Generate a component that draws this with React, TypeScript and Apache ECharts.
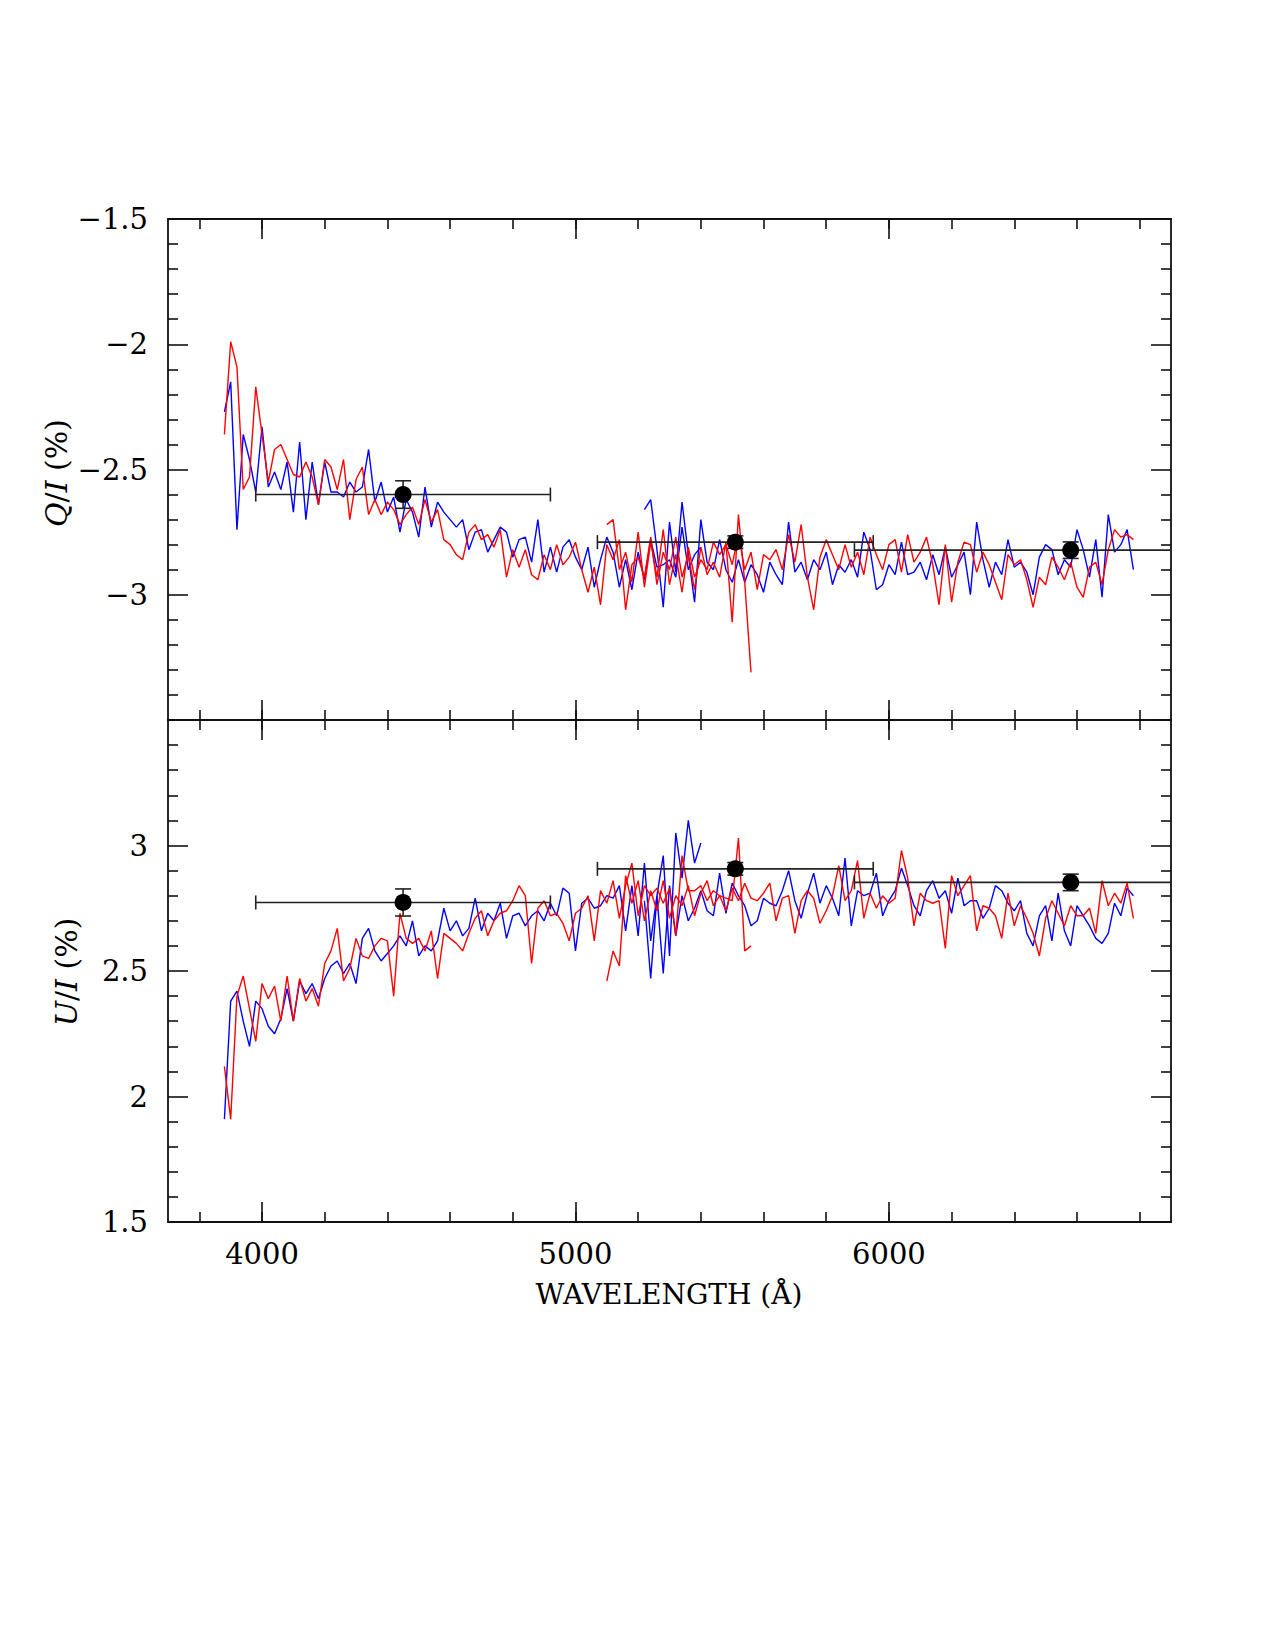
import { useEffect, useRef } from "react";
import * as echarts from "echarts";

// Wavelength grid of the spectra (Å)
const WL_STEP = 20;
const X_MIN = 3700;
const X_MAX = 6900;

const xMajorTicks = [4000, 5000, 6000];
const xMinorTicks = [3800, 4000, 4200, 4400, 4600, 4800, 5000, 5200, 5400, 5600, 5800, 6000, 6200, 6400, 6600, 6800];

// ---- Q/I (%) spectra: each arm comes in two overlapping pieces ----
const qBlueAStart = 3880;
const qBlueA = [
  -2.27, -2.15, -2.74, -2.36, -2.46, -2.59, -2.33, -2.57, -2.51, -2.58,
  -2.47, -2.67, -2.39, -2.70, -2.47, -2.64, -2.47, -2.59, -2.59, -2.61,
  -2.55, -2.59, -2.57, -2.42, -2.63, -2.55, -2.67, -2.61, -2.75, -2.62,
  -2.67, -2.77, -2.57, -2.73, -2.63, -2.67, -2.70, -2.73, -2.70, -2.82,
  -2.75, -2.74, -2.83, -2.78, -2.73, -2.75, -2.85, -2.78, -2.77, -2.87,
  -2.70, -2.91, -2.81, -2.91, -2.81, -2.78, -2.85, -2.90, -2.81, -2.97,
  -2.86, -2.77, -2.83, -2.97, -2.86, -2.98, -2.83, -2.94, -2.78, -2.89,
  -2.88, -2.86, -2.93, -2.73, -2.90, -2.84, -2.81,
];

const qRedAStart = 3880;
const qRedA = [
  -2.36, -1.99, -2.09, -2.58, -2.53, -2.17, -2.36, -2.55, -2.42, -2.40,
  -2.46, -2.52, -2.53, -2.47, -2.53, -2.64, -2.46, -2.49, -2.58, -2.46,
  -2.70, -2.54, -2.49, -2.68, -2.62, -2.68, -2.63, -2.66, -2.72, -2.68,
  -2.65, -2.72, -2.62, -2.71, -2.66, -2.78, -2.80, -2.84, -2.86, -2.75,
  -2.72, -2.78, -2.76, -2.81, -2.74, -2.93, -2.82, -2.89, -2.82, -2.92,
  -2.94, -2.84, -2.90, -2.80, -2.88, -2.85, -2.79, -2.90, -2.99, -2.89,
  -3.04, -2.80, -2.86, -2.78, -3.06, -2.88, -2.85, -2.93, -2.77, -2.96,
  -2.83, -2.90, -2.77, -2.93, -2.84, -2.98, -2.81, -2.92, -2.87, -2.93,
  -2.79, -3.11, -2.68, -2.95, -3.31,
];

const qBlueBStart = 5220;
const qBlueB = [
  -2.66, -2.62, -2.82, -3.05, -2.71, -2.91, -2.63, -2.84, -3.03, -2.70,
  -2.87, -2.90, -2.78, -2.90, -2.95, -2.86, -2.95, -2.88, -2.92, -2.99,
  -2.87, -2.92, -2.96, -2.71, -2.91, -2.87, -2.94, -2.86, -2.90, -2.83,
  -2.96, -2.88, -2.91, -2.86, -2.93, -2.75, -2.82, -2.98, -2.96, -2.88,
  -2.92, -2.79, -2.92, -2.91, -2.87, -2.94, -2.84, -2.92, -2.81, -2.93,
  -2.88, -2.83, -3.00, -2.71, -2.86, -2.97, -2.87, -2.92, -2.78, -2.89,
  -2.87, -2.91, -3.00, -2.85, -2.80, -2.82, -2.92, -2.86, -2.89, -2.74,
  -2.82, -2.93, -2.78, -3.01, -2.68, -2.83, -2.80, -2.74, -2.90,
];

const qRedBStart = 5100;
const qRedB = [
  -2.72, -2.70, -2.90, -2.83, -2.95, -2.75, -2.97, -2.79, -2.93, -2.74,
  -2.96, -2.84, -2.99, -2.81, -2.93, -2.86, -2.90, -2.79, -2.84, -2.80,
  -2.88, -2.76, -2.90, -2.83, -2.98, -2.84, -2.86, -2.82, -2.90, -2.76,
  -2.87, -2.72, -2.93, -3.06, -2.85, -2.78, -2.84, -2.90, -2.80, -2.89,
  -2.83, -2.92, -2.77, -2.84, -2.90, -2.80, -2.78, -2.91, -2.76, -2.87,
  -2.83, -2.77, -2.88, -3.04, -2.80, -3.03, -2.87, -2.79, -2.80, -2.91,
  -2.83, -2.88, -2.95, -3.02, -2.84, -2.88, -2.86, -2.94, -3.05, -2.93,
  -2.96, -2.85, -2.89, -2.94, -2.87, -2.97, -3.01, -2.89, -2.87, -2.96,
  -2.82, -2.74, -2.77, -2.76, -2.78,
];

// ---- U/I (%) spectra ----
const uBlueAStart = 3880;
const uBlueA = [
  1.91, 2.38, 2.42, 2.30, 2.20, 2.38, 2.35, 2.28, 2.25, 2.31,
  2.43, 2.30, 2.46, 2.41, 2.45, 2.39, 2.47, 2.52, 2.54, 2.49,
  2.53, 2.45, 2.63, 2.67, 2.58, 2.54, 2.57, 2.60, 2.64, 2.60,
  2.70, 2.56, 2.60, 2.58, 2.62, 2.75, 2.66, 2.70, 2.64, 2.67,
  2.79, 2.66, 2.73, 2.70, 2.77, 2.63, 2.72, 2.73, 2.68, 2.72,
  2.74, 2.70, 2.77, 2.72, 2.83, 2.81, 2.58, 2.77, 2.79, 2.75,
  2.76, 2.80, 2.79, 2.84, 2.66, 2.84, 2.64, 2.93, 2.62, 2.80,
  2.96, 2.56, 3.05, 2.87, 3.10, 2.93, 3.01,
];

const uRedAStart = 3880;
const uRedA = [
  2.12, 1.91, 2.40, 2.48, 2.35, 2.22, 2.45, 2.39, 2.44, 2.30,
  2.48, 2.30, 2.47, 2.38, 2.43, 2.36, 2.53, 2.58, 2.67, 2.46,
  2.51, 2.63, 2.56, 2.55, 2.60, 2.63, 2.62, 2.40, 2.73, 2.63,
  2.61, 2.63, 2.58, 2.66, 2.47, 2.65, 2.63, 2.61, 2.58, 2.65,
  2.71, 2.74, 2.64, 2.70, 2.73, 2.74, 2.78, 2.84, 2.80, 2.53,
  2.75, 2.78, 2.72, 2.73, 2.69, 2.62, 2.73, 2.75, 2.80, 2.62,
  2.82, 2.77, 2.86, 2.71, 2.84, 2.93, 2.72, 2.84, 2.80, 2.83,
  2.77, 2.83, 2.64, 2.96, 2.82, 2.82, 2.84, 2.78, 2.82, 2.80,
  2.79, 2.78, 3.03, 2.58, 2.60,
];

const uBlueBStart = 5220;
const uBlueB = [
  2.78, 2.47, 2.80, 2.49, 2.84, 2.64, 2.80, 2.70, 2.75, 2.82,
  2.74, 2.72, 2.89, 2.73, 2.85, 2.80, 2.76, 2.68, 2.70, 2.79,
  2.77, 2.76, 2.82, 2.90, 2.78, 2.71, 2.81, 2.89, 2.77, 2.84,
  2.79, 2.72, 2.95, 2.68, 2.82, 2.80, 2.81, 2.89, 2.72, 2.78,
  2.82, 2.91, 2.84, 2.76, 2.72, 2.82, 2.86, 2.79, 2.82, 2.73,
  2.87, 2.76, 2.78, 2.78, 2.71, 2.75, 2.84, 2.82, 2.77, 2.74,
  2.78, 2.65, 2.60, 2.72, 2.76, 2.62, 2.81, 2.66, 2.60, 2.76,
  2.72, 2.68, 2.63, 2.61, 2.65, 2.77, 2.72, 2.83, 2.80,
];

const uRedBStart = 5100;
const uRedB = [
  2.46, 2.58, 2.52, 2.88, 2.77, 2.86, 2.70, 2.82, 2.74, 2.86,
  2.71, 2.80, 2.76, 2.84, 2.72, 2.81, 2.86, 2.76, 2.80, 2.74,
  2.83, 2.78, 2.85, 2.79, 2.78, 2.81, 2.85, 2.70, 2.79, 2.80,
  2.65, 2.78, 2.82, 2.79, 2.69, 2.74, 2.80, 2.92, 2.78, 2.82,
  2.94, 2.71, 2.81, 2.75, 2.80, 2.77, 2.79, 2.98, 2.87, 2.68,
  2.81, 2.78, 2.77, 2.78, 2.59, 2.88, 2.80, 2.84, 2.88, 2.66,
  2.76, 2.75, 2.72, 2.63, 2.81, 2.68, 2.76, 2.71, 2.65, 2.56,
  2.71, 2.78, 2.73, 2.68, 2.76, 2.72, 2.72, 2.75, 2.65, 2.86,
  2.76, 2.81, 2.77, 2.85, 2.71,
];

// ---- Broad-band points with their bin widths ----
const binCenters = [4450, 5510, 6580];
const binLo = [3980, 5070, 5890];
const binHi = [4920, 5950, 7270];
const qBinValue = [-2.6, -2.79, -2.822];
const qBinErr = [0.055, 0.025, 0.033];
const uBinValue = [2.773, 2.907, 2.853];
const uBinErr = [0.054, 0.025, 0.033];

const FONT = '"DejaVu Serif", serif';
const BLUE = "#0000ff";
const RED = "#ff0000";
const INK = "#111111";

function spectrum(start: number, values: number[]) {
  return values.map((v, i) => [start + i * WL_STEP, v]);
}

function binRows(values: number[], errs: number[]) {
  return binCenters.map((c, i) => [c, values[i], binLo[i], binHi[i], values[i] - errs[i], values[i] + errs[i]]);
}

function lineSeries(data: number[][], color: string, xi: number, yi: number, z: number) {
  return {
    type: "line",
    data,
    xAxisIndex: xi,
    yAxisIndex: yi,
    showSymbol: false,
    symbol: "none",
    silent: true,
    clip: true,
    z,
    lineStyle: { color, width: 1.4 },
    itemStyle: { color },
  };
}

function errorBarSeries(rows: number[][], xi: number, yi: number) {
  return {
    type: "custom",
    xAxisIndex: xi,
    yAxisIndex: yi,
    silent: true,
    z: 6,
    data: rows,
    encode: { x: 0, y: 1 },
    renderItem: (_params: any, api: any) => {
      const x = api.value(0);
      const y = api.value(1);
      const xlo = api.value(2);
      const xhi = api.value(3);
      const ylo = api.value(4);
      const yhi = api.value(5);
      const pL = api.coord([xlo, y]);
      const pR = api.coord([Math.min(xhi, X_MAX), y]);
      const pB = api.coord([x, ylo]);
      const pT = api.coord([x, yhi]);
      const style = { stroke: "#222222", lineWidth: 1.6 };
      const cap = 7;
      const children: any[] = [
        { type: "line", shape: { x1: pL[0], y1: pL[1], x2: pR[0], y2: pR[1] }, style },
        { type: "line", shape: { x1: pL[0], y1: pL[1] - cap, x2: pL[0], y2: pL[1] + cap }, style },
        { type: "line", shape: { x1: pB[0], y1: pB[1], x2: pT[0], y2: pT[1] }, style },
        { type: "line", shape: { x1: pB[0] - 8, y1: pB[1], x2: pB[0] + 8, y2: pB[1] }, style },
        { type: "line", shape: { x1: pT[0] - 8, y1: pT[1], x2: pT[0] + 8, y2: pT[1] }, style },
      ];
      if (xhi < X_MAX) {
        children.push({ type: "line", shape: { x1: pR[0], y1: pR[1] - cap, x2: pR[0], y2: pR[1] + cap }, style });
      }
      return { type: "group", children };
    },
  };
}

function dotSeries(rows: number[][], xi: number, yi: number) {
  return {
    type: "scatter",
    xAxisIndex: xi,
    yAxisIndex: yi,
    silent: true,
    z: 7,
    symbol: "circle",
    symbolSize: 17,
    itemStyle: { color: "#000000", opacity: 1 },
    data: rows.map((r) => [r[0], r[1]]),
  };
}

const labelFont = { fontFamily: FONT, fontSize: 29, color: "#000000" };
const lineStyle = { color: INK, width: 1.8 };
const tickLine = { color: INK, width: 1.6 };

function xAxesFor(gridIndex: number, showLabels: boolean) {
  const base = { type: "value", gridIndex, min: X_MIN, max: X_MAX, splitLine: { show: false } };
  const major = (position: string, withLabels: boolean) => ({
    ...base,
    position,
    axisLine: { show: true, onZero: false, lineStyle },
    axisTick: { show: true, inside: true, length: 20, customValues: xMajorTicks, lineStyle: tickLine },
    axisLabel: withLabels
      ? { show: true, customValues: xMajorTicks, margin: 17, formatter: (v: number) => String(v), ...labelFont }
      : { show: false },
  });
  const minor = (position: string) => ({
    ...base,
    position,
    axisLine: { show: false },
    axisTick: { show: true, inside: true, length: 10, customValues: xMinorTicks, lineStyle: tickLine },
    axisLabel: { show: false },
  });
  return [major("bottom", showLabels), minor("bottom"), major("top", false), minor("top")];
}

function yAxesFor(gridIndex: number, min: number, max: number, hidden: number) {
  const base = {
    type: "value",
    gridIndex,
    min,
    max,
    interval: 0.5,
    splitLine: { show: false },
    minorSplitLine: { show: false },
    axisLine: { show: true, onZero: false, lineStyle },
    axisTick: { show: true, inside: true, length: 20, lineStyle: tickLine },
    minorTick: { show: true, splitNumber: 5, length: 10, lineStyle: tickLine },
  };
  return [
    {
      ...base,
      position: "left",
      axisLabel: {
        show: true,
        margin: 20,
        ...labelFont,
        formatter: (v: number) => (Math.abs(v - hidden) < 1e-9 ? "" : String(v).replace("-", "\u2212")),
      },
    },
    { ...base, position: "right", axisLabel: { show: false } },
  ];
}

// Vertical axis title made of upright and italic pieces, laid out along a rotated group
function verticalTitle(cx: number, cy: number, pieces: { text: string; italic: boolean }[]) {
  const size = 30;
  const ctx = document.createElement("canvas").getContext("2d")!;
  const widths = pieces.map((p) => {
    ctx.font = `${p.italic ? "italic " : ""}${size}px "DejaVu Serif"`;
    return ctx.measureText(p.text).width;
  });
  const total = widths.reduce((a, b) => a + b, 0);
  let offset = -total / 2;
  const children = pieces.map((p, i) => {
    const el = {
      type: "text",
      x: offset,
      y: 0,
      style: {
        text: p.text,
        fontFamily: FONT,
        fontSize: size,
        fontStyle: p.italic ? "italic" : "normal",
        fill: "#000000",
        align: "left",
        verticalAlign: "middle",
      },
    };
    offset += widths[i];
    return el;
  });
  return { type: "group", x: cx, y: cy, rotation: Math.PI / 2, children };
}

export default function App() {
  const ref = useRef<HTMLDivElement>(null);

  useEffect(() => {
    if (!ref.current) return;
    const chart = echarts.init(ref.current, null, { renderer: "svg" });

    const qRows = binRows(qBinValue, qBinErr);
    const uRows = binRows(uBinValue, uBinErr);

    chart.setOption({
      animation: false,
      backgroundColor: "#ffffff",
      grid: [
        { left: 168, top: 219, width: 1003, height: 501 },
        { left: 168, top: 720, width: 1003, height: 502 },
      ],
      xAxis: [...xAxesFor(0, false), ...xAxesFor(1, true)],
      yAxis: [...yAxesFor(0, -3.5, -1.5, -3.5), ...yAxesFor(1, 1.5, 3.5, 3.5)],
      series: [
        lineSeries(spectrum(qBlueAStart, qBlueA), BLUE, 0, 0, 2),
        lineSeries(spectrum(qBlueBStart, qBlueB), BLUE, 0, 0, 2),
        lineSeries(spectrum(qRedAStart, qRedA), RED, 0, 0, 3),
        lineSeries(spectrum(qRedBStart, qRedB), RED, 0, 0, 3),
        errorBarSeries(qRows, 0, 0),
        dotSeries(qRows, 0, 0),
        lineSeries(spectrum(uBlueAStart, uBlueA), BLUE, 4, 2, 2),
        lineSeries(spectrum(uBlueBStart, uBlueB), BLUE, 4, 2, 2),
        lineSeries(spectrum(uRedAStart, uRedA), RED, 4, 2, 3),
        lineSeries(spectrum(uRedBStart, uRedB), RED, 4, 2, 3),
        errorBarSeries(uRows, 4, 2),
        dotSeries(uRows, 4, 2),
      ],
      graphic: [
        {
          type: "text",
          x: 669,
          y: 1294,
          style: {
            text: "WAVELENGTH (\u00c5)",
            fontFamily: FONT,
            fontSize: 28,
            fill: "#000000",
            align: "center",
            verticalAlign: "middle",
          },
        },
        verticalTitle(56, 473, [
          { text: "Q", italic: true },
          { text: "/", italic: false },
          { text: "I", italic: true },
          { text: " (%)", italic: false },
        ]),
        verticalTitle(66, 972, [
          { text: "U", italic: true },
          { text: "/", italic: false },
          { text: "I", italic: true },
          { text: " (%)", italic: false },
        ]),
      ],
    });

    return () => chart.dispose();
  }, []);

  return (
    <div
      ref={ref}
      style={{ position: "absolute", left: 0, top: 0, width: 1275, height: 1650, background: "#ffffff" }}
    />
  );
}
